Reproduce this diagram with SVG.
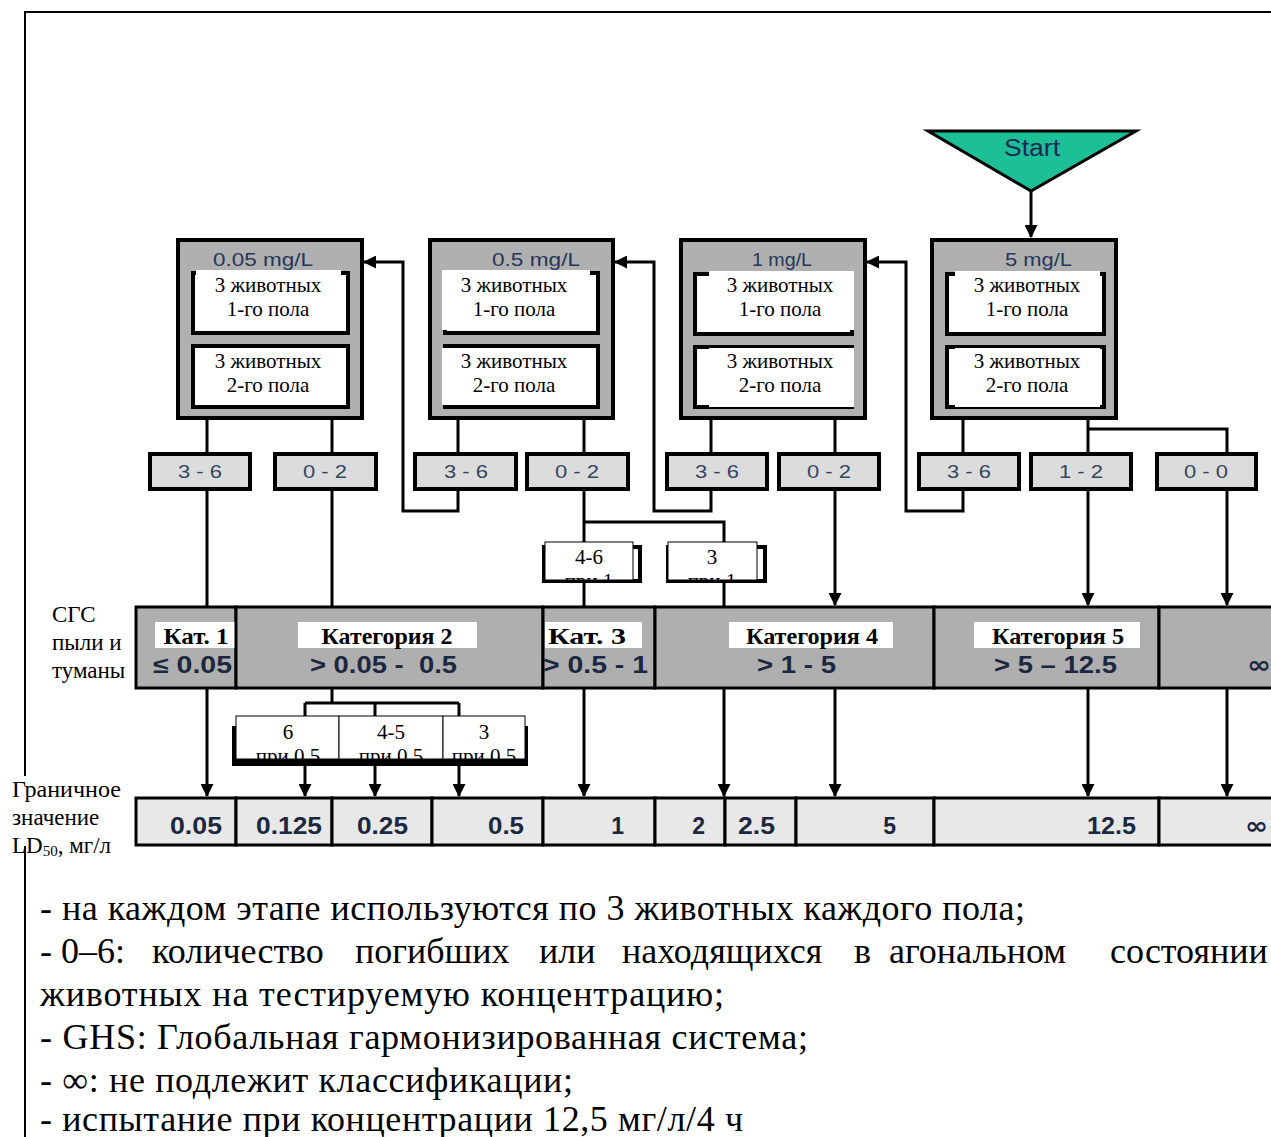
<svg xmlns="http://www.w3.org/2000/svg" width="1271" height="1137" viewBox="0 0 1271 1137">
  <style>
    .conc { fill: #b0b0b0; stroke: #000; stroke-width: 4; }
    .sub { fill: #fff; stroke: #000; stroke-width: 4; }
    .wht { fill: #fff; }
    .hdr { font-family: "Liberation Sans", Arial, sans-serif; font-size: 18px; fill: #26365a; }
    .ser { font-family: "Liberation Serif", "Times New Roman", serif; font-size: 21px; fill: #000; text-anchor: middle; }
    .res { fill: #dcdcdc; stroke: #000; stroke-width: 4; }
    .rtx { font-family: "Liberation Sans", Arial, sans-serif; font-size: 18px; fill: #34455e; text-anchor: middle; }
    .cat { fill: #afafaf; stroke: #000; stroke-width: 3; }
    .ctl { font-family: "Liberation Serif", "Times New Roman", serif; font-size: 24px; font-weight: bold; fill: #000; text-anchor: middle; }
    .val { font-family: "Liberation Sans", Arial, sans-serif; font-size: 23px; font-weight: bold; fill: #1c2740; }
    .inf { font-family: "DejaVu Sans", "Liberation Sans", sans-serif; font-size: 24px; font-weight: bold; fill: #1c2740; }
    .ld { fill: #e8e8e8; stroke: #000; stroke-width: 3; }
    .lnk { fill: none; stroke: #000; stroke-width: 3; }
    .arr { marker-end: url(#ah); }
    .lab { font-family: "Liberation Serif", "Times New Roman", serif; font-size: 23px; fill: #000; }
    .note { font-family: "Liberation Serif", "Times New Roman", serif; font-size: 36px; fill: #000; }
    .tag { fill: #fff; stroke: #000; stroke-width: 1; }
    .tsh { fill: #000; }
    .tgt { font-family: "Liberation Serif", "Times New Roman", serif; font-size: 21px; fill: #000; text-anchor: middle; }
  </style>
  <defs>
    <marker id="ah" markerUnits="userSpaceOnUse" markerWidth="13" markerHeight="13" refX="12" refY="6.5" orient="auto">
      <path d="M0,0 L13,6.5 L0,13 Z" fill="#000"/>
    </marker>
    <clipPath id="c1"><rect x="545" y="542" width="88" height="38"/></clipPath>
    <clipPath id="c2"><rect x="668" y="542" width="89" height="38"/></clipPath>
    <clipPath id="c3"><rect x="236" y="716" width="103" height="43"/></clipPath>
    <clipPath id="c4"><rect x="339" y="716" width="104" height="43"/></clipPath>
    <clipPath id="c5"><rect x="443" y="716" width="82" height="43"/></clipPath>
  </defs>

  <rect x="0" y="0" width="1271" height="1137" fill="#fff"/>

  <!-- page frame -->
  <g id="frame">
    <line x1="24" y1="12" x2="1271" y2="12" stroke="#000" stroke-width="2"/>
    <line x1="25" y1="12" x2="25" y2="1137" stroke="#000" stroke-width="2"/>
  </g>

  <!-- connectors -->
  <g id="connectors">
    <line class="lnk arr" x1="1031" y1="191" x2="1031" y2="237"/>
    <!-- from 0.05 mg/L -->
    <line class="lnk" x1="207" y1="418" x2="207" y2="453"/>
    <line class="lnk" x1="332" y1="418" x2="332" y2="453"/>
    <line class="lnk arr" x1="207" y1="489" x2="207" y2="796"/>
    <polyline class="lnk" points="332,489 332,703"/>
    <polyline class="lnk" points="305,703 459,703"/>
    <line class="lnk arr" x1="305" y1="703" x2="305" y2="796"/>
    <line class="lnk arr" x1="375" y1="703" x2="375" y2="796"/>
    <line class="lnk arr" x1="459" y1="703" x2="459" y2="796"/>
    <!-- from 0.5 mg/L -->
    <line class="lnk" x1="458" y1="418" x2="458" y2="453"/>
    <line class="lnk" x1="584" y1="418" x2="584" y2="453"/>
    <polyline class="lnk arr" points="458,489 458,511 403,511 403,262 364,262"/>
    <line class="lnk arr" x1="584" y1="489" x2="584" y2="796"/>
    <polyline class="lnk arr" points="584,522 724,522 724,796"/>
    <!-- from 1 mg/L -->
    <line class="lnk" x1="711" y1="418" x2="711" y2="453"/>
    <line class="lnk" x1="835" y1="418" x2="835" y2="453"/>
    <polyline class="lnk arr" points="711,489 711,511 654,511 654,262 615,262"/>
    <line class="lnk arr" x1="835" y1="489" x2="835" y2="605"/>
    <line class="lnk arr" x1="835" y1="688" x2="835" y2="796"/>
    <!-- from 5 mg/L -->
    <line class="lnk" x1="963" y1="418" x2="963" y2="453"/>
    <line class="lnk" x1="1088" y1="418" x2="1088" y2="453"/>
    <polyline class="lnk" points="1088,429 1227,429 1227,453"/>
    <polyline class="lnk arr" points="963,489 963,511 906,511 906,262 867,262"/>
    <line class="lnk arr" x1="1088" y1="489" x2="1088" y2="605"/>
    <line class="lnk arr" x1="1227" y1="489" x2="1227" y2="605"/>
    <line class="lnk arr" x1="1088" y1="688" x2="1088" y2="796"/>
    <line class="lnk arr" x1="1227" y1="688" x2="1227" y2="796"/>
  </g>

  <!-- start -->
  <g id="start">
    <polygon points="928,131 1136,131 1031,191" fill="#1dbf97" stroke="#000" stroke-width="3"/>
    <text x="1032" y="156" font-family="Liberation Sans, Arial, sans-serif" font-size="23" fill="#1b2a55" text-anchor="middle" textLength="56" lengthAdjust="spacingAndGlyphs">Start</text>
  </g>

  <!-- concentration steps -->
  <g id="step-005">
    <rect class="conc" x="178" y="240" width="184" height="178"/>
    <text class="hdr" x="213" y="266" textLength="100" lengthAdjust="spacingAndGlyphs">0.05 mg/L</text>
    <rect class="sub" x="193" y="273" width="155" height="60"/>
    <rect class="wht" x="196" y="270" width="145" height="60"/>
    <text class="ser" x="268" y="292">3 животных</text>
    <text class="ser" x="268" y="316">1-го пола</text>
    <rect class="sub" x="193" y="346" width="155" height="61"/>
    <rect class="wht" x="196" y="348" width="145" height="57"/>
    <text class="ser" x="268" y="368">3 животных</text>
    <text class="ser" x="268" y="392">2-го пола</text>
  </g>
  <g id="step-05">
    <rect class="conc" x="430" y="240" width="183" height="178"/>
    <text class="hdr" x="492" y="266" textLength="88" lengthAdjust="spacingAndGlyphs">0.5 mg/L</text>
    <rect class="sub" x="445" y="273" width="153" height="60"/>
    <rect class="wht" x="442" y="270" width="148" height="60"/>
    <text class="ser" x="514" y="292">3 животных</text>
    <text class="ser" x="514" y="316">1-го пола</text>
    <rect class="sub" x="445" y="346" width="153" height="61"/>
    <rect class="wht" x="442" y="348" width="148" height="57"/>
    <text class="ser" x="514" y="368">3 животных</text>
    <text class="ser" x="514" y="392">2-го пола</text>
  </g>
  <g id="step-1">
    <rect class="conc" x="681" y="240" width="184" height="178"/>
    <text class="hdr" x="752" y="266" textLength="60" lengthAdjust="spacingAndGlyphs">1  mg/L</text>
    <rect class="sub" x="695" y="274" width="157" height="60"/>
    <rect class="wht" x="709" y="271" width="145" height="59"/>
    <text class="ser" x="780" y="292">3 животных</text>
    <text class="ser" x="780" y="316">1-го пола</text>
    <rect class="sub" x="695" y="347" width="157" height="60"/>
    <rect class="wht" x="709" y="348" width="145" height="59"/>
    <text class="ser" x="780" y="368">3 животных</text>
    <text class="ser" x="780" y="392">2-го пола</text>
  </g>
  <g id="step-5">
    <rect class="conc" x="932" y="240" width="184" height="178"/>
    <text class="hdr" x="1005" y="266" textLength="67" lengthAdjust="spacingAndGlyphs">5 mg/L</text>
    <rect class="sub" x="947" y="274" width="157" height="60"/>
    <rect class="wht" x="955" y="271" width="145" height="59"/>
    <text class="ser" x="1027" y="292">3 животных</text>
    <text class="ser" x="1027" y="316">1-го пола</text>
    <rect class="sub" x="947" y="347" width="157" height="60"/>
    <rect class="wht" x="955" y="348" width="145" height="59"/>
    <text class="ser" x="1027" y="368">3 животных</text>
    <text class="ser" x="1027" y="392">2-го пола</text>
  </g>

  <!-- outcomes (number of dead animals) -->
  <g id="r1"><rect class="res" x="150" y="454" width="100" height="35"/><text class="rtx" x="200" y="478" textLength="44" lengthAdjust="spacingAndGlyphs">3 - 6</text></g>
  <g id="r2"><rect class="res" x="275" y="454" width="101" height="35"/><text class="rtx" x="325" y="478" textLength="44" lengthAdjust="spacingAndGlyphs">0 - 2</text></g>
  <g id="r3"><rect class="res" x="415" y="454" width="101" height="35"/><text class="rtx" x="466" y="478" textLength="44" lengthAdjust="spacingAndGlyphs">3 - 6</text></g>
  <g id="r4"><rect class="res" x="527" y="454" width="101" height="35"/><text class="rtx" x="577" y="478" textLength="44" lengthAdjust="spacingAndGlyphs">0 - 2</text></g>
  <g id="r5"><rect class="res" x="667" y="454" width="100" height="35"/><text class="rtx" x="717" y="478" textLength="44" lengthAdjust="spacingAndGlyphs">3 - 6</text></g>
  <g id="r6"><rect class="res" x="779" y="454" width="100" height="35"/><text class="rtx" x="829" y="478" textLength="44" lengthAdjust="spacingAndGlyphs">0 - 2</text></g>
  <g id="r7"><rect class="res" x="919" y="454" width="100" height="35"/><text class="rtx" x="969" y="478" textLength="44" lengthAdjust="spacingAndGlyphs">3 - 6</text></g>
  <g id="r8"><rect class="res" x="1031" y="454" width="100" height="35"/><text class="rtx" x="1081" y="478" textLength="44" lengthAdjust="spacingAndGlyphs">1 - 2</text></g>
  <g id="r9"><rect class="res" x="1157" y="454" width="99" height="35"/><text class="rtx" x="1206" y="478" textLength="44" lengthAdjust="spacingAndGlyphs">0 - 0</text></g>

  <!-- outcomes at 1 mg/L -->
  <g id="t46">
    <rect class="sub" x="544" y="547" width="96" height="34"/>
    <rect class="tag" x="545" y="542" width="88" height="38"/>
    <g clip-path="url(#c1)">
      <text class="tgt" x="589" y="564">4-6</text>
      <text class="tgt" x="589" y="588">при 1</text>
    </g>
  </g>
  <g id="t3a">
    <rect class="sub" x="668" y="547" width="97" height="34"/>
    <rect class="tag" x="668" y="542" width="89" height="38"/>
    <g clip-path="url(#c2)">
      <text class="tgt" x="712" y="564">3</text>
      <text class="tgt" x="712" y="588">при 1</text>
    </g>
  </g>

  <!-- GHS categories -->
  <g id="cat1">
    <rect class="cat" x="136" y="607" width="100" height="81"/>
    <rect class="wht" x="155" y="622" width="82" height="26"/>
    <text class="ctl" x="196" y="644" textLength="65" lengthAdjust="spacingAndGlyphs">Кат. 1</text>
    <text class="val" x="153" y="673" textLength="79" lengthAdjust="spacingAndGlyphs">≤ 0.05</text>
  </g>
  <g id="cat2">
    <rect class="cat" x="236" y="607" width="307" height="81"/>
    <rect class="wht" x="298" y="622" width="179" height="26"/>
    <text class="ctl" x="387" y="644" textLength="131" lengthAdjust="spacingAndGlyphs">Категория 2</text>
    <text class="val" x="310" y="673" textLength="147" lengthAdjust="spacingAndGlyphs" xml:space="preserve">&gt; 0.05 -  0.5</text>
  </g>
  <g id="cat3">
    <rect class="cat" x="543" y="607" width="112" height="81"/>
    <rect class="wht" x="545" y="622" width="97" height="26"/>
    <text class="ctl" x="587" y="644" textLength="78" lengthAdjust="spacingAndGlyphs">Кат. 3</text>
    <text class="val" x="543" y="673" textLength="105" lengthAdjust="spacingAndGlyphs">&gt; 0.5 - 1</text>
  </g>
  <g id="cat4">
    <rect class="cat" x="655" y="607" width="279" height="81"/>
    <rect class="wht" x="729" y="622" width="164" height="26"/>
    <text class="ctl" x="812" y="644" textLength="132" lengthAdjust="spacingAndGlyphs">Категория 4</text>
    <text class="val" x="757" y="673" textLength="79" lengthAdjust="spacingAndGlyphs">&gt; 1 - 5</text>
  </g>
  <g id="cat5">
    <rect class="cat" x="934" y="607" width="225" height="81"/>
    <rect class="wht" x="974" y="622" width="166" height="26"/>
    <text class="ctl" x="1058" y="644" textLength="132" lengthAdjust="spacingAndGlyphs">Категория 5</text>
    <text class="val" x="994" y="673" textLength="123" lengthAdjust="spacingAndGlyphs">&gt; 5 – 12.5</text>
  </g>
  <g id="cat-none">
    <rect class="cat" x="1159" y="607" width="114" height="81"/>
    <text class="inf" x="1247" y="673" textLength="24" lengthAdjust="spacingAndGlyphs">∞</text>
  </g>

  <!-- outcomes at 0.5 mg/L -->
  <g id="t6">
    <rect class="tsh" x="232" y="726" width="296" height="40"/>
    <rect class="tag" x="236" y="716" width="103" height="43"/>
    <g clip-path="url(#c3)">
      <text class="tgt" x="288" y="739">6</text>
      <text class="tgt" x="288" y="763">при 0.5</text>
    </g>
  </g>
  <g id="t45">
    <rect class="tag" x="339" y="716" width="104" height="43"/>
    <g clip-path="url(#c4)">
      <text class="tgt" x="391" y="739">4-5</text>
      <text class="tgt" x="391" y="763">при 0.5</text>
    </g>
  </g>
  <g id="t3b">
    <rect class="tag" x="443" y="716" width="82" height="43"/>
    <g clip-path="url(#c5)">
      <text class="tgt" x="484" y="739">3</text>
      <text class="tgt" x="484" y="763">при 0.5</text>
    </g>
  </g>

  <!-- LD50 cut-off values -->
  <g id="ld50">
    <rect class="ld" x="136" y="798" width="100" height="47"/>
    <rect class="ld" x="236" y="798" width="96" height="47"/>
    <rect class="ld" x="332" y="798" width="100" height="47"/>
    <rect class="ld" x="432" y="798" width="111" height="47"/>
    <rect class="ld" x="543" y="798" width="112" height="47"/>
    <rect class="ld" x="655" y="798" width="70" height="47"/>
    <rect class="ld" x="725" y="798" width="71" height="47"/>
    <rect class="ld" x="796" y="798" width="138" height="47"/>
    <rect class="ld" x="934" y="798" width="225" height="47"/>
    <rect class="ld" x="1159" y="798" width="114" height="47"/>
    <text class="val" x="170" y="834" textLength="52" lengthAdjust="spacingAndGlyphs">0.05</text>
    <text class="val" x="256" y="834" textLength="66" lengthAdjust="spacingAndGlyphs">0.125</text>
    <text class="val" x="357" y="834" textLength="51" lengthAdjust="spacingAndGlyphs">0.25</text>
    <text class="val" x="488" y="834" textLength="36" lengthAdjust="spacingAndGlyphs">0.5</text>
    <text class="val" x="624" y="834" text-anchor="end">1</text>
    <text class="val" x="705" y="834" text-anchor="end">2</text>
    <text class="val" x="738" y="834" textLength="37" lengthAdjust="spacingAndGlyphs">2.5</text>
    <text class="val" x="896" y="834" text-anchor="end">5</text>
    <text class="val" x="1087" y="834" textLength="49" lengthAdjust="spacingAndGlyphs">12.5</text>
    <text class="inf" x="1245" y="834" textLength="23" lengthAdjust="spacingAndGlyphs">∞</text>
  </g>

  <!-- row labels -->
  <g id="row-labels">
    <text class="lab" x="52" y="622">СГС</text>
    <text class="lab" x="52" y="650">пыли и</text>
    <text class="lab" x="52" y="678">туманы</text>
    <rect class="wht" x="10" y="776" width="115" height="70"/>
    <text class="lab" x="12" y="797" textLength="109" lengthAdjust="spacingAndGlyphs">Граничное</text>
    <text class="lab" x="12" y="825">значение</text>
    <text class="lab" x="12" y="853">LD<tspan font-size="15" dy="3">50</tspan><tspan dy="-3">, мг/л</tspan></text>
  </g>

  <!-- legend -->
  <g id="legend">
    <text class="note" x="40" y="920" textLength="985" lengthAdjust="spacing">- на каждом этапе используются по 3 животных каждого пола;</text>
    <text class="note" y="963"><tspan x="40">- 0–6:</tspan><tspan x="152">количество</tspan><tspan x="355">погибших</tspan><tspan x="539">или</tspan><tspan x="622">находящихся</tspan><tspan x="854">в</tspan><tspan x="889">агональном</tspan><tspan x="1110">состоянии</tspan></text>
    <text class="note" x="40" y="1006" textLength="684" lengthAdjust="spacing">животных на тестируемую концентрацию;</text>
    <text class="note" x="40" y="1049" textLength="768" lengthAdjust="spacing">- GHS: Глобальная гармонизированная система;</text>
    <text class="note" x="40" y="1092" textLength="533" lengthAdjust="spacing">- ∞: не подлежит классификации;</text>
    <text class="note" x="40" y="1131" textLength="703" lengthAdjust="spacing">- испытание при концентрации 12,5 мг/л/4 ч</text>
  </g>
</svg>
